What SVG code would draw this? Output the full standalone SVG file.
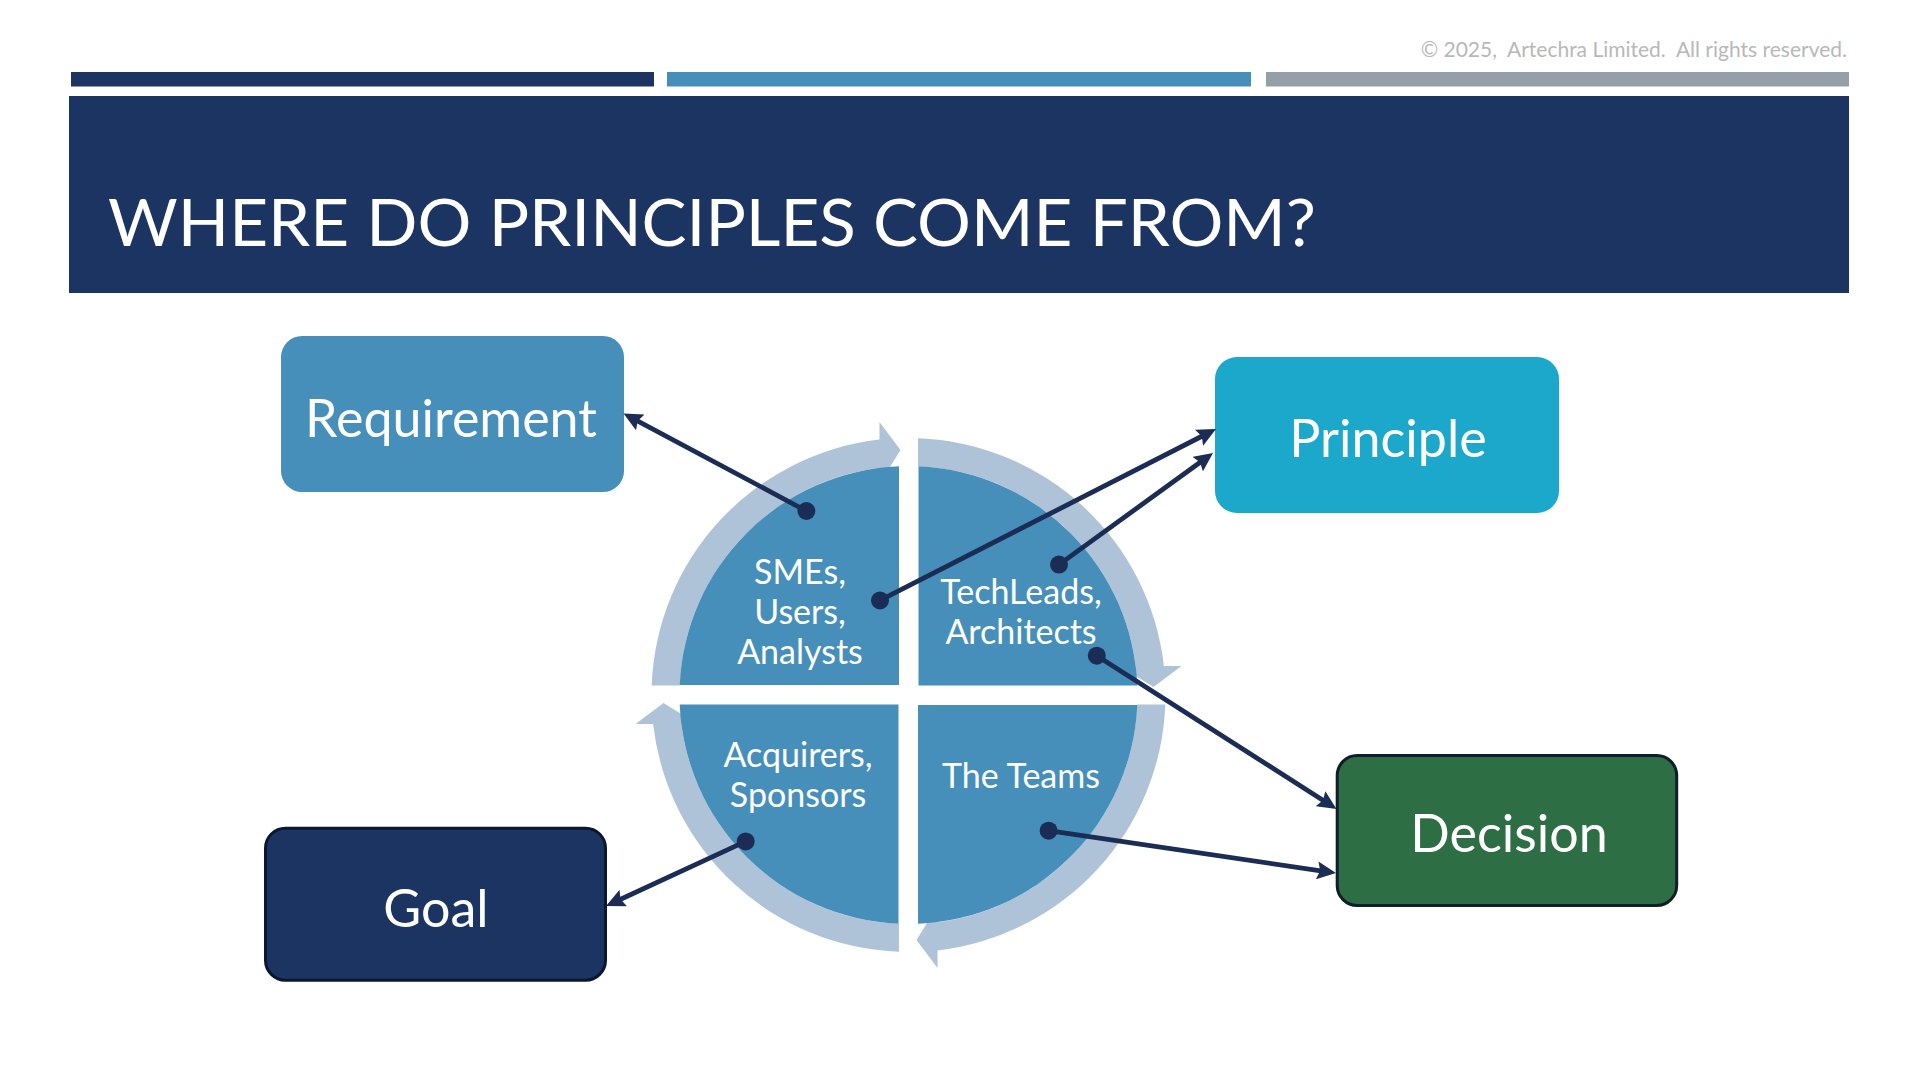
<svg xmlns="http://www.w3.org/2000/svg" width="1920" height="1080" viewBox="0 0 1920 1080">
  <style>
    .f { font-family: Lato, "Noto Sans", "Liberation Sans", sans-serif; }
    .box-t { font-size: 52px; fill: #ffffff; text-anchor: middle; }
    .q-t { font-size: 34px; fill: #ffffff; text-anchor: middle; }
    .quad { fill: #468FBA; }
    .ring { fill: #AFC3D8; }
    .conn { stroke: #1B2D55; stroke-width: 4.8; fill: none; marker-end: url(#ah); }
    .dot { fill: #1B2D55; }
  </style>
  <defs>
    <marker id="ah" markerUnits="userSpaceOnUse" viewBox="0 0 19 18" markerWidth="19" markerHeight="18" refX="7" refY="9" orient="auto">
      <path d="M0,0 L19,9 L0,18 L3,9 Z" fill="#1B2D55"/>
    </marker>
    <path id="ringArrow" d="M -256.8,-9.5 A 257 257 0 0 1 -29,-255.4 L -29,-273 L -8,-245 L -29,-211 L -29,-227.2 A 229 229 0 0 0 -228.8,-9.5 Z"/>
    <path id="quadShape" d="M -9.5,-10 L -228.8,-10 A 229 229 0 0 1 -9.5,-228.8 Z"/>
  </defs>

  <rect width="1920" height="1080" fill="#ffffff"/>

  <g id="header">
    <text class="f" x="1847" y="56.5" font-size="21" fill="#B8B8B8" text-anchor="end" style="white-space:pre">© 2025,  Artechra Limited.  All rights reserved.</text>
    <rect x="71" y="72" width="583" height="14.5" fill="#1C3461"/>
    <rect x="667" y="72" width="584" height="14.5" fill="#458FBA"/>
    <rect x="1266" y="72" width="583" height="14.5" fill="#959FA7"/>
    <rect x="69" y="96" width="1780" height="197" fill="#1C3461"/>
    <text class="f" x="108" y="246" font-size="66" fill="#ffffff" textLength="1208" lengthAdjust="spacingAndGlyphs">WHERE DO PRINCIPLES COME FROM?</text>
  </g>

  <g id="cycle" transform="translate(908.5,695)">
    <use href="#ringArrow" class="ring"/>
    <use href="#ringArrow" class="ring" transform="rotate(90)"/>
    <use href="#ringArrow" class="ring" transform="rotate(180)"/>
    <use href="#ringArrow" class="ring" transform="rotate(270)"/>
  </g>

  <g id="smes">
    <use href="#quadShape" class="quad" transform="translate(908.5,695)"/>
    <text class="f q-t" x="800" y="584">SMEs,</text>
    <text class="f q-t" x="800" y="624">Users,</text>
    <text class="f q-t" x="800" y="664">Analysts</text>
  </g>
  <g id="techleads">
    <use href="#quadShape" class="quad" transform="translate(908.5,695) rotate(90)"/>
    <text class="f q-t" x="1021" y="604">TechLeads,</text>
    <text class="f q-t" x="1021" y="644">Architects</text>
  </g>
  <g id="teams">
    <use href="#quadShape" class="quad" transform="translate(908.5,695) rotate(180)"/>
    <text class="f q-t" x="1021" y="788">The Teams</text>
  </g>
  <g id="acquirers">
    <use href="#quadShape" class="quad" transform="translate(908.5,695) rotate(270)"/>
    <text class="f q-t" x="798" y="767">Acquirers,</text>
    <text class="f q-t" x="798" y="807">Sponsors</text>
  </g>

  <g id="requirement">
    <rect x="281" y="336" width="343" height="156" rx="21" fill="#458FBA"/>
    <text class="f box-t" x="451" y="437">Requirement</text>
  </g>
  <g id="principle">
    <rect x="1215" y="357" width="344" height="156" rx="22" fill="#1BA8CB"/>
    <text class="f box-t" x="1388" y="457">Principle</text>
  </g>
  <g id="decision">
    <rect x="1337.2" y="755.5" width="339.5" height="150" rx="20" fill="#2E6E45" stroke="#0F1E2A" stroke-width="3"/>
    <text class="f box-t" x="1509" y="852">Decision</text>
  </g>
  <g id="goal">
    <rect x="265.5" y="828.2" width="340" height="152" rx="20" fill="#1B3461" stroke="#0B1630" stroke-width="3"/>
    <text class="f box-t" x="436" y="927">Goal</text>
  </g>

  <g id="connectors">
    <line class="conn" x1="806.4" y1="511" x2="634.1" y2="419.1"/>
    <line class="conn" x1="880" y1="600.4" x2="1205.3" y2="434.5"/>
    <line class="conn" x1="1059" y1="564.6" x2="1203.3" y2="460"/>
    <line class="conn" x1="1096.8" y1="655.7" x2="1326.4" y2="802.5"/>
    <line class="conn" x1="1048.6" y1="830.7" x2="1324.1" y2="871.3"/>
    <line class="conn" x1="745.7" y1="841.4" x2="616.9" y2="901"/>
    <circle class="dot" cx="806.4" cy="511" r="9"/>
    <circle class="dot" cx="880" cy="600.4" r="9"/>
    <circle class="dot" cx="1059" cy="564.6" r="9"/>
    <circle class="dot" cx="1096.8" cy="655.7" r="9"/>
    <circle class="dot" cx="1048.6" cy="830.7" r="9"/>
    <circle class="dot" cx="745.7" cy="841.4" r="9"/>
  </g>
</svg>
